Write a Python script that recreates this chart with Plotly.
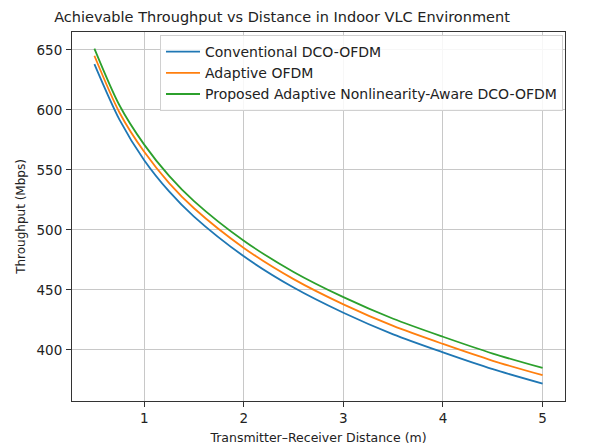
import plotly.graph_objects as go

distance = [0.5, 0.75, 1.0, 1.25, 1.5, 2.0, 2.5, 3.0, 3.5, 4.0, 4.5, 5.0]
conventional = [638, 592, 558, 532, 511, 478, 452, 431, 413, 398, 384, 372]
adaptive = [645, 598, 565, 539, 518, 485, 459, 438, 420, 405, 391, 379]
proposed = [651, 604, 571, 545, 524, 491, 465, 444, 426, 411, 397, 385]

names = ["Conventional DCO-OFDM", "Adaptive OFDM", "Proposed Adaptive Nonlinearity-Aware DCO-OFDM"]
colors = ["#1f77b4", "#ff7f0e", "#2ca02c"]
series = [conventional, adaptive, proposed]

x_ticks = [1, 2, 3, 4, 5]
y_ticks = [400, 450, 500, 550, 600, 650]

fig = go.Figure()
for name, color, ys in zip(names, colors, series):
    fig.add_trace(go.Scatter(x=distance, y=ys, mode="lines", name=name,
                             line=dict(color=color, width=1.8, shape="spline", smoothing=0.8)))

axis_common = dict(showline=True, linecolor="#333333", linewidth=1, mirror=True,
                   ticks="outside", ticklen=5, tickcolor="#333333",
                   showgrid=True, gridcolor="#c8c8c8", gridwidth=1, zeroline=False,
                   automargin=False,
                   tickfont=dict(size=13.5, color="#222222"))

fig.update_layout(
    width=589, height=446,
    margin=dict(l=72, r=24, t=32, b=45, autoexpand=False),
    paper_bgcolor="white", plot_bgcolor="white",
    font=dict(family="DejaVu Sans", color="#222222"),
    title=dict(text="Achievable Throughput vs Distance in Indoor VLC Environment",
               x=282/589, xref="container", xanchor="center",
               y=1 - 17/446, yref="container", yanchor="middle",
               font=dict(size=14.5, color="#222222")),
    xaxis=dict(range=[0.275, 5.225], tickvals=x_ticks, ticklabelstandoff=0,
               title=dict(text="Transmitter–Receiver Distance (m)", font=dict(size=12.5), standoff=8),
               **axis_common),
    yaxis=dict(range=[357.5, 664.8], tickvals=y_ticks, ticklabelstandoff=1,
               title=dict(text="Throughput (Mbps)", font=dict(size=12), standoff=8),
               **axis_common),
    legend=dict(x=(160-72)/493, y=(401-35)/369, xanchor="left", yanchor="top",
                bgcolor="rgba(255,255,255,0.85)", bordercolor="#d0d0d0", borderwidth=1,
                font=dict(size=14, color="#222222"), itemwidth=34,
                tracegroupgap=0),
    showlegend=True,
)

fig.write_html("out.html")
